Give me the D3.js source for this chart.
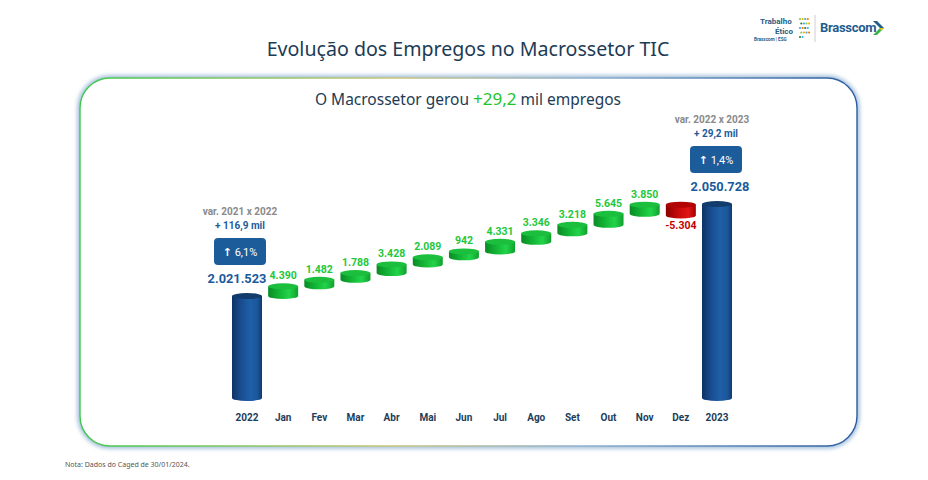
<!DOCTYPE html>
<html lang="pt-BR">
<head>
    <meta charset="UTF-8">
    <script src="https://d3js.org/d3.v7.min.js"></script>
    <title>Evolução dos Empregos no Macrossetor TIC</title>
    <style>
        html, body {
            margin: 0;
            padding: 0;
            background: #ffffff;
        }
        svg {
            display: block;
        }
        text {
            font-family: "Roboto", "Liberation Sans", sans-serif;
        }
        .title, .subtitle, .note {
            font-family: "Noto Sans", "Open Sans", sans-serif;
        }
    </style>
</head>
<body>
    <script>
        // DATA
        const categories = ["2022", "Jan", "Fev", "Mar", "Abr", "Mai", "Jun", "Jul", "Ago", "Set", "Out", "Nov", "Dez", "2023"];
        const totalYears = ["2022", "2023"];
        const totalValues = [2021523, 2050728];
        const months = ["Jan", "Fev", "Mar", "Abr", "Mai", "Jun", "Jul", "Ago", "Set", "Out", "Nov", "Dez"];
        const monthChanges = [4390, 1482, 1788, 3428, 2089, 942, 4331, 3346, 3218, 5645, 3850, -5304];
        const varLabels = ["var. 2021 x 2022", "var. 2022 x 2023"];
        const varAbs = ["+ 116,9 mil", "+ 29,2 mil"];
        const varPct = ["6,1%", "1,4%"];

        const fmt = d3.formatLocale({ decimal: ",", thousands: ".", grouping: [3], currency: ["R$", ""] }).format(",d");

        const width = 928;
        const height = 480;

        const svg = d3.select("body")
          .append("svg")
          .attr("width", width)
          .attr("height", height);

        const defs = svg.append("defs");

        // gradients for the cylinders
        const addGrad = (id, stops, horizontal = true) => {
          const g = defs.append("linearGradient").attr("id", id)
            .attr("x1", "0%").attr("y1", "0%")
            .attr("x2", horizontal ? "100%" : "0%").attr("y2", horizontal ? "0%" : "100%");
          stops.forEach(s => g.append("stop").attr("offset", s[0]).attr("stop-color", s[1]));
        };
        addGrad("blueBody", [["0%", "#0c3363"], ["25%", "#17498a"], ["60%", "#1f60a8"], ["85%", "#1b5699"], ["100%", "#0f3b6e"]]);
        addGrad("greenBody", [["0%", "#0a8a26"], ["35%", "#12b334"], ["70%", "#22d44a"], ["100%", "#10a02d"]]);
        addGrad("redBody", [["0%", "#8c0000"], ["45%", "#cc0a0a"], ["75%", "#e01515"], ["100%", "#a00000"]]);
        addGrad("frame", [["0%", "#3ec84e"], ["40%", "#c9c47a"], ["65%", "#8fb0cf"], ["100%", "#2a5c9e"]]);

        const glow = defs.append("filter").attr("id", "glow")
          .attr("x", "-5%").attr("y", "-10%").attr("width", "110%").attr("height", "120%");
        glow.append("feGaussianBlur").attr("stdDeviation", 2.2);

        // TITLE
        svg.append("text")
          .attr("class", "title")
          .attr("x", 468)
          .attr("y", 56)
          .attr("text-anchor", "middle")
          .attr("font-size", 19.6)
          .attr("fill", "#1d3b55")
          .text("Evolução dos Empregos no Macrossetor TIC");

        // PANEL
        const panel = { x: 80, y: 78, w: 777, h: 368, r: 30 };
        svg.append("rect")
          .attr("x", panel.x).attr("y", panel.y)
          .attr("width", panel.w).attr("height", panel.h)
          .attr("rx", panel.r)
          .attr("fill", "none")
          .attr("stroke", "#6f9cc8")
          .attr("stroke-width", 5)
          .attr("opacity", 0.7)
          .attr("filter", "url(#glow)");
        svg.append("rect")
          .attr("x", panel.x).attr("y", panel.y)
          .attr("width", panel.w).attr("height", panel.h)
          .attr("rx", panel.r)
          .attr("fill", "#ffffff")
          .attr("stroke", "url(#frame)")
          .attr("stroke-width", 1.4);

        // SUBTITLE
        const sub = svg.append("text")
          .attr("class", "subtitle")
          .attr("x", 468)
          .attr("y", 105)
          .attr("text-anchor", "middle")
          .attr("font-size", 15.5)
          .attr("fill", "#1d3b55");
        sub.append("tspan").text("O Macrossetor gerou ");
        sub.append("tspan").attr("fill", "#1ec428").attr("font-size", 17).text("+29,2");
        sub.append("tspan").text(" mil empregos");

        // SCALES
        const x = d3.scalePoint()
          .domain(categories)
          .range([247, 717]);

        const baseline = 398;
        // broken axis for the two totals
        const yTotal = d3.scaleLinear()
          .domain([totalValues[0], totalValues[1]])
          .range([296, 204]);
        // disc height for the monthly changes
        const hStep = d3.scaleLinear()
          .domain([0, 6000])
          .range([4.8, 11.5]);

        const barW = 30;
        const ry = 3;

        const cylinder = (g, cx, top, bottom, body, cap) => {
          const x0 = cx - barW / 2, x1 = cx + barW / 2;
          g.append("path")
            .attr("d", `M${x0},${top} L${x0},${bottom} A${barW / 2},${ry} 0 0 0 ${x1},${bottom} L${x1},${top} Z`)
            .attr("fill", body);
          g.append("ellipse")
            .attr("cx", cx).attr("cy", top)
            .attr("rx", barW / 2).attr("ry", ry)
            .attr("fill", cap);
        };

        const chart = svg.append("g");

        // TOTAL BARS
        totalYears.forEach((yr, i) => {
          cylinder(chart, x(yr), yTotal(totalValues[i]), baseline, "url(#blueBody)", "#123c6b");
        });

        // MONTHLY DISCS
        let level = yTotal(totalValues[0]);
        const discs = months.map((m, i) => {
          const v = monthChanges[i];
          const h = hStep(Math.abs(v));
          let top, bottom;
          if (v >= 0) {
            bottom = level;
            top = level - h;
            level = top;
          } else {
            top = level;
            bottom = level + h;
            level = bottom;
          }
          return { m, v, top, bottom };
        });

        discs.forEach(d => {
          if (d.v >= 0) {
            cylinder(chart, x(d.m), d.top, d.bottom, "url(#greenBody)", "#1cbf3d");
          } else {
            cylinder(chart, x(d.m), d.top, d.bottom, "url(#redBody)", "#b30404");
          }
        });

        // disc labels
        chart.selectAll(".disc-label")
          .data(discs)
          .join("text")
          .attr("class", "disc-label")
          .attr("x", d => x(d.m))
          .attr("y", d => d.v >= 0 ? d.top - ry - 4 : d.bottom + ry + 11)
          .attr("text-anchor", "middle")
          .attr("font-size", 10.5)
          .attr("font-weight", 700)
          .attr("fill", d => d.v >= 0 ? "#1ec83a" : "#c40000")
          .text(d => (d.v < 0 ? "-" : "") + fmt(Math.abs(d.v)));

        // CATEGORY AXIS LABELS
        chart.selectAll(".cat")
          .data(categories)
          .join("text")
          .attr("class", "cat")
          .attr("x", d => x(d))
          .attr("y", 421)
          .attr("text-anchor", "middle")
          .attr("font-size", 10)
          .attr("font-weight", 700)
          .attr("fill", "#1d3d5a")
          .text(d => d);

        // TOTAL LABELS AND VARIATION BOXES
        const labelShift = [-10, 3];
        const annShift = [-7, -1];
        const varShift = [-7, -5];
        totalYears.forEach((yr, i) => {
          const top = yTotal(totalValues[i]);
          const cx = x(yr) + annShift[i];

          chart.append("text")
            .attr("x", x(yr) + labelShift[i])
            .attr("y", top - 13.5)
            .attr("text-anchor", "middle")
            .attr("font-size", 12.8)
            .attr("font-weight", 700)
            .attr("fill", "#1a5a9c")
            .text(fmt(totalValues[i]));

          chart.append("rect")
            .attr("x", cx - 26)
            .attr("y", top - 58)
            .attr("width", 52)
            .attr("height", 27)
            .attr("rx", 4)
            .attr("fill", "#1d5c9b");

          const pct = chart.append("text")
            .attr("x", cx)
            .attr("y", top - 40.5)
            .attr("text-anchor", "middle")
            .attr("font-size", 11)
            .attr("fill", "#ffffff");
          pct.append("tspan").attr("font-weight", 700).attr("font-family", "DejaVu Sans").text("↑");
          pct.append("tspan").text(" " + varPct[i]);

          chart.append("text")
            .attr("x", cx)
            .attr("y", top - 67)
            .attr("text-anchor", "middle")
            .attr("font-size", 10)
            .attr("font-weight", 700)
            .attr("fill", "#1d5c9b")
            .text(varAbs[i]);

          chart.append("text")
            .attr("x", x(yr) + varShift[i])
            .attr("y", top - 81.5)
            .attr("text-anchor", "middle")
            .attr("font-size", 10)
            .attr("font-weight", 700)
            .attr("fill", "#8a8a8a")
            .text(varLabels[i]);
        });

        // NOTE
        svg.append("text")
          .attr("class", "note")
          .attr("x", 65)
          .attr("y", 467)
          .attr("font-size", 7)
          .attr("fill", "#555555")
          .text("Nota: Dados do Caged de 30/01/2024.");

        // LOGO
        const logo = svg.append("g");
        logo.append("text")
          .attr("x", 760).attr("y", 24)
          .attr("font-size", 8).attr("font-weight", 700)
          .attr("fill", "#1f5d86")
          .text("Trabalho");
        logo.append("text")
          .attr("x", 775).attr("y", 34)
          .attr("font-size", 8).attr("font-weight", 700)
          .attr("fill", "#1f5d86")
          .text("Ético");
        logo.append("text")
          .attr("x", 754).attr("y", 41)
          .attr("font-size", 4.6).attr("font-weight", 700)
          .attr("fill", "#1f5d86")
          .text("Brasscom | ESG");
        const dotColors = ["#8bc34a", "#f4b400", "#4aa3df", "#f57c00", "#2e7d32", "#29b6f6"];
        d3.range(18).forEach(i => {
          logo.append("circle")
            .attr("cx", 800 + (i % 4) * 2.6 + (Math.floor(i / 4) % 2) * 1.3)
            .attr("cy", 19 + Math.floor(i / 4) * 4.5)
            .attr("r", 1.1)
            .attr("fill", dotColors[i % dotColors.length]);
        });
        logo.append("line")
          .attr("x1", 815).attr("x2", 815)
          .attr("y1", 15).attr("y2", 42)
          .attr("stroke", "#cfcfcf");
        logo.append("text")
          .attr("x", 820).attr("y", 32)
          .attr("font-size", 13).attr("font-weight", 700)
          .attr("fill", "#1f5d8f")
          .attr("letter-spacing", -0.3)
          .text("Brasscom");
        logo.append("path")
          .attr("d", "M873,21 L877,21 L884,28 L880,28 Z")
          .attr("fill", "#1f5d8f");
        logo.append("path")
          .attr("d", "M880,28 L884,28 L877,35 L873,35 Z")
          .attr("fill", "#3bb34a");
        logo.append("path")
          .attr("d", "M880,28 L884,28 L881,31 Z")
          .attr("fill", "#f5c400");
    </script>
</body>
</html>
